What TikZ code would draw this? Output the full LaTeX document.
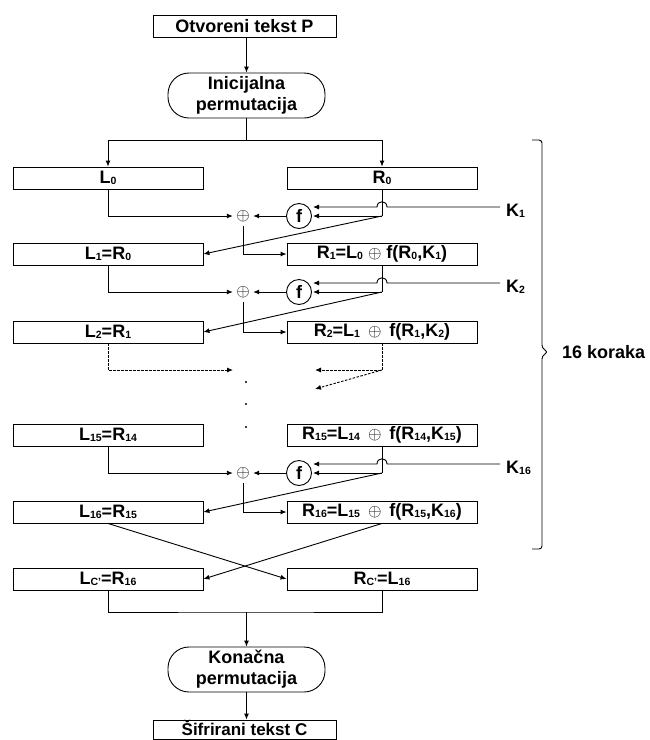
\documentclass[tikz,border=0pt]{standalone}
\usepackage{fontspec}
\setmainfont{Liberation Sans}
\usetikzlibrary{arrows.meta}
\newcommand\sbs[1]{\raisebox{-0.8pt}{\fontsize{10.5}{10}\selectfont #1}}
\newcommand\desround[7]{%
  \node[fn] (f#1) at (299,#4) {f};
  \node[xr] (x#1) at (243,#4) {$\oplus$};
  \node[klab] (k#1) at (506,#4-5) {#7};
  \coordinate (j#1) at (382,#4);
  \coordinate (ka#1) at (500,#4-9);
  \coordinate (kb#1) at (313,#4-9);
  \coordinate (fb#1) at (313,#4);
  \draw[arr] (#2.south) |- (x#1);
  \draw[ln] (#3.south) -- (j#1);
  \draw[arr] (j#1) -- (fb#1);
  \draw[arr] (ka#1) -- (387,#4-9) .. controls (387,#4-16) and (377,#4-16) .. (377,#4-9) -- (kb#1);
  \draw[arr] (f#1) -- (x#1);
  \draw[arr] (j#1) -- (#5.east);
  \draw[arr] (x#1.south) |- (#6.west);
}
\begin{document}
\begin{tikzpicture}[x=1pt,y=-1pt,
  every node/.style={font=\fontsize{18}{21}\selectfont\bfseries},
  blk/.style={draw, line width=0.9pt, minimum width=190pt, minimum height=22pt, inner sep=0pt},
  pill/.style={draw, line width=0.9pt, rounded corners=21pt, minimum width=157pt, minimum height=45pt, inner sep=0pt, align=center},
  fn/.style={draw, line width=0.9pt, circle, minimum size=25pt, inner sep=0pt},
  xr/.style={inner sep=0pt, minimum size=20pt, font=\fontsize{18}{18}\selectfont},
  klab/.style={anchor=west, inner sep=0pt},
  ln/.style={line width=0.9pt},
  arr/.style={ln, -{Latex[length=6pt,width=5pt]}},
  dsh/.style={arr, dash pattern=on 2.5pt off 1.5pt}]
\useasboundingbox (0,0) rectangle (650,740);

% top
\node[blk, minimum width=183pt] (P) at (244.5,26) {Otvoreni tekst P};
\node[pill] (ini) at (246.5,95.5) {Inicijalna\\permutacija};
\draw[arr] (P.south -| ini) -- (ini.north);
\coordinate (s) at (246.5,140);

% blocks
\node[blk] (L0) at (108,178) {L\sbs{0}};
\node[blk] (R0) at (382,178) {R\sbs{0}};
\node[blk] (L1) at (108,254) {L\sbs{1}=R\sbs{0}};
\node[blk] (R1) at (382,254) {R\sbs{1}=L\sbs{0} $\oplus$ f(R\sbs{0},K\sbs{1})};
\node[blk] (L2) at (108,332) {L\sbs{2}=R\sbs{1}};
\node[blk] (R2) at (382,332) {R\sbs{2}=L\sbs{1} \,$\oplus$\, f(R\sbs{1},K\sbs{2})};
\node[blk] (L15) at (108,435) {L\sbs{15}=R\sbs{14}};
\node[blk] (R15) at (382,435) {R\sbs{15}=L\sbs{14} \,$\oplus$\, f(R\sbs{14},K\sbs{15})};
\node[blk] (L16) at (108,512) {L\sbs{16}=R\sbs{15}};
\node[blk] (R16) at (382,512) {R\sbs{16}=L\sbs{15} \,$\oplus$\, f(R\sbs{15},K\sbs{16})};
\node[blk] (Lc) at (108,579) {L\sbs{C'}=R\sbs{16}};
\node[blk] (Rc) at (382,579) {R\sbs{C'}=L\sbs{16}};

\draw[ln] (ini.south) -- (s);
\draw[arr] (s) -| (L0.north);
\draw[arr] (s) -| (R0.north);

% rounds
\desround{1}{L0}{R0}{216}{L1}{R1}{K\sbs{1}}
\desround{2}{L1}{R1}{292}{L2}{R2}{K\sbs{2}}
\desround{16}{L15}{R15}{473}{L16}{R16}{K\sbs{16}}

% dashed continuation
\coordinate (dl) at (108,370);
\coordinate (dr) at (382,370);
\coordinate (dle) at (233,370);
\coordinate (dre) at (315,370);
\coordinate (dde) at (315,389);
\draw[dsh] (L2.south) -- (dl) -- (dle);
\draw[dsh] (R2.south) -- (dr) -- (dre);
\draw[dsh] (dr) -- (dde);
\foreach \yy in {382,404,427} \fill (246,\yy) circle (1.1pt);

% swap
\draw[arr] (L16.south) -- (Rc.west);
\draw[arr] (R16.south) -- (Lc.east);

% brace
\draw[ln, rounded corners=3pt] (532,140) -- (542,140) -- (542,348) -- (548,352) -- (542,356) -- (542,549) -- (532,549);
\node[anchor=west, inner sep=0pt] (kor) at (562,352) {16 koraka};

% bottom
\coordinate (m) at (246.5,612);
\node[pill] (kon) at (246.5,669.5) {Kona\v{c}na\\permutacija};
\node[blk, minimum width=183pt, minimum height=19pt, text height=12.8pt, text depth=0pt, font=\fontsize{17}{20}\selectfont\bfseries] (C) at (244.5,729.5) {\v{S}ifrirani tekst C};
\draw[ln] (Lc.south) |- (m) -| (Rc.south);
\draw[arr] (m) -- (kon.north);
\draw[arr] (kon.south) -- (C.north -| kon);
\end{tikzpicture}
\end{document}
